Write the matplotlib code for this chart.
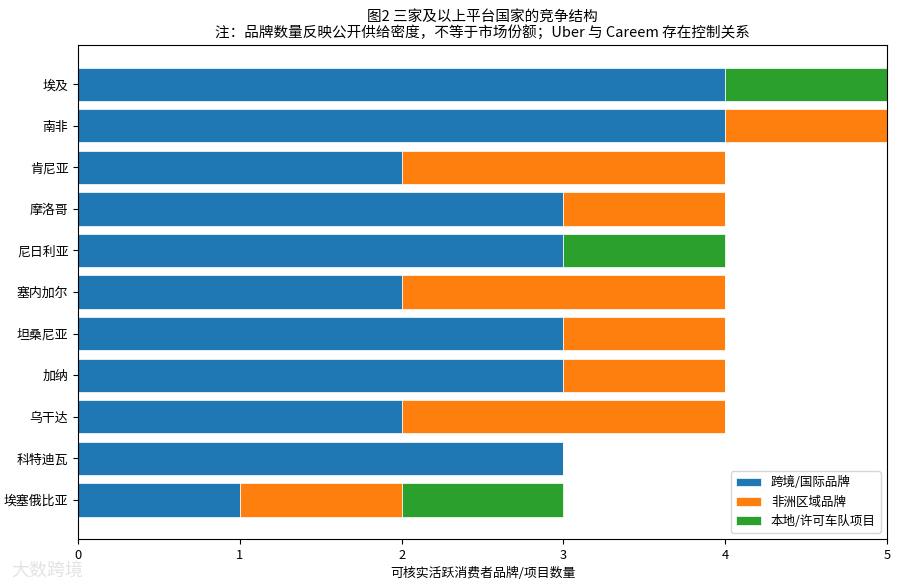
import numpy as np
import matplotlib
matplotlib.use("Agg")
import matplotlib.pyplot as plt

plt.rcParams['font.family'] = ['Noto Sans CJK SC', 'DejaVu Sans']

# ------------ data -----------------
countries = ["埃及", "南非", "肯尼亚", "摩洛哥", "尼日利亚", "塞内加尔",
             "坦桑尼亚", "加纳", "乌干达", "科特迪瓦", "埃塞俄比亚"]
intl_brands = [4, 4, 2, 3, 3, 2, 3, 3, 2, 3, 1]
africa_brands = [0, 1, 2, 1, 0, 2, 1, 1, 2, 0, 1]
local_projects = [1, 0, 0, 0, 1, 0, 0, 0, 0, 0, 1]
series_names = ["跨境/国际品牌", "非洲区域品牌", "本地/许可车队项目"]

# ------------ plot -----------------
fig, ax = plt.subplots(figsize=(9, 5.86), dpi=100)

y = np.arange(len(countries))
left = np.zeros(len(countries))
for vals, name, col in zip([intl_brands, africa_brands, local_projects],
                           series_names, ["#1f77b4", "#ff7f0e", "#2ca02c"]):
    ax.barh(y, vals, left=left, height=0.8, color=col, label=name,
            edgecolor="white", linewidth=0.5)
    left += np.array(vals)

ax.set_yticks(y)
ax.set_yticklabels(countries, fontsize=9.3)
ax.invert_yaxis()
ax.set_xlim(0, 5)
ax.tick_params(axis="x", labelsize=9.3)
ax.set_xlabel("可核实活跃消费者品牌/项目数量", fontsize=9.3)
ax.set_title("图2 三家及以上平台国家的竞争结构\n注：品牌数量反映公开供给密度，不等于市场份额；Uber 与 Careem 存在控制关系",
             fontsize=10.5, pad=5)
ax.legend(loc="lower right", fontsize=9)

fig.text(0.012, 0.018, "大数跨境", fontsize=13, color="#dddddd", alpha=0.8)

fig.subplots_adjust(left=0.0867, right=0.9856, top=0.923, bottom=0.0802)
plt.savefig("out.png", dpi=100)
